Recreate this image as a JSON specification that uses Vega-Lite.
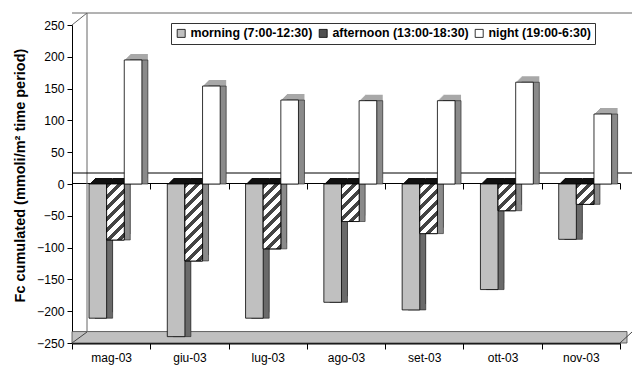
{
  "$schema": "https://vega.github.io/schema/vega-lite/v6.json",
  "width": 548,
  "height": 318,
  "autosize": "none",
  "padding": {"left": 72, "top": 25, "right": 12, "bottom": 24},
  "background": "white",
  "config": {
    "font": "Liberation Sans, Arial, sans-serif",
    "view": {"stroke": null},
    "axis": {"domainColor": "black", "tickColor": "black", "labelColor": "black", "titleColor": "black", "grid": false, "labelFont": "Liberation Sans, Arial, sans-serif", "titleFont": "Liberation Sans, Arial, sans-serif"},
    "legend": {"labelFont": "Liberation Sans, Arial, sans-serif"}
  },
  "datasets": {
    "bars": [
      {"month": "mag-03", "series": "morning (7:00-12:30)", "value": -211},
      {"month": "mag-03", "series": "afternoon (13:00-18:30)", "value": -88},
      {"month": "mag-03", "series": "night (19:00-6:30)", "value": 195},
      {"month": "giu-03", "series": "morning (7:00-12:30)", "value": -240},
      {"month": "giu-03", "series": "afternoon (13:00-18:30)", "value": -121},
      {"month": "giu-03", "series": "night (19:00-6:30)", "value": 154},
      {"month": "lug-03", "series": "morning (7:00-12:30)", "value": -211},
      {"month": "lug-03", "series": "afternoon (13:00-18:30)", "value": -102},
      {"month": "lug-03", "series": "night (19:00-6:30)", "value": 132},
      {"month": "ago-03", "series": "morning (7:00-12:30)", "value": -186},
      {"month": "ago-03", "series": "afternoon (13:00-18:30)", "value": -59},
      {"month": "ago-03", "series": "night (19:00-6:30)", "value": 131},
      {"month": "set-03", "series": "morning (7:00-12:30)", "value": -198},
      {"month": "set-03", "series": "afternoon (13:00-18:30)", "value": -78},
      {"month": "set-03", "series": "night (19:00-6:30)", "value": 131},
      {"month": "ott-03", "series": "morning (7:00-12:30)", "value": -166},
      {"month": "ott-03", "series": "afternoon (13:00-18:30)", "value": -42},
      {"month": "ott-03", "series": "night (19:00-6:30)", "value": 160},
      {"month": "nov-03", "series": "morning (7:00-12:30)", "value": -87},
      {"month": "nov-03", "series": "afternoon (13:00-18:30)", "value": -32},
      {"month": "nov-03", "series": "night (19:00-6:30)", "value": 110}
    ]
  },
  "data": {"name": "bars"},
  "resolve": {"scale": {"xOffset": "independent"}, "axis": {"x": "independent", "y": "independent"}},
  "layer": [
    {
      "data": {"values": [{}]},
      "mark": {"type": "rect", "fill": "#c0c0c0", "stroke": "#444", "strokeWidth": 0.8, "xOffset": 7, "x2Offset": 6},
      "encoding": {
        "y": {"datum": -250, "type": "quantitative", "scale": {"domain": [-250, 250], "nice": false}, "axis": null},
        "y2": {"datum": -232}
      }
    },
    {
      "data": {"values": [{}]},
      "mark": {"type": "rule", "color": "#666", "strokeWidth": 1, "xOffset": 15, "yOffset": -12},
      "encoding": {
        "x": {"datum": "mag-03", "type": "nominal", "bandPosition": 0,
              "scale": {"domain": ["mag-03","giu-03","lug-03","ago-03","set-03","ott-03","nov-03"], "paddingInner": 0, "paddingOuter": 0},
              "axis": {"orient": "bottom", "offset": -160, "labels": false, "ticks": true, "tickBand": "extent", "tickSize": 6, "domainWidth": 1, "title": null}},
        "y": {"datum": 250, "type": "quantitative", "axis": null},
        "y2": {"datum": -232}
      }
    },
    {
      "data": {"values": [{}]},
      "mark": {"type": "rule", "color": "#666", "strokeWidth": 1, "xOffset": 15, "x2Offset": 12, "yOffset": -12},
      "encoding": {"y": {"datum": 250, "type": "quantitative", "axis": null}}
    },
    {
      "data": {"values": [{}]},
      "mark": {"type": "rule", "color": "black", "strokeWidth": 1, "xOffset": 15, "x2Offset": 12, "yOffset": -11},
      "encoding": {"y": {"datum": 0, "type": "quantitative", "axis": null}}
    },
    {
      "data": {"values": [{}]},
      "mark": {"type": "rule", "color": "#666", "strokeWidth": 1, "x2Offset": 15, "y2Offset": -12},
      "encoding": {
        "x": {"datum": "mag-03", "type": "nominal", "bandPosition": 0, "axis": null},
        "x2": {"datum": "mag-03", "bandPosition": 0},
        "y": {"datum": 250, "type": "quantitative", "axis": null},
        "y2": {"datum": 250}
      }
    },
    {
      "data": {"values": [{}]},
      "mark": {"type": "rule", "color": "#444", "strokeWidth": 1, "x2Offset": 15, "y2Offset": -11},
      "encoding": {
        "x": {"datum": "mag-03", "type": "nominal", "bandPosition": 0, "axis": null},
        "x2": {"datum": "mag-03", "bandPosition": 0},
        "y": {"datum": -250, "type": "quantitative", "axis": null},
        "y2": {"datum": -250}
      }
    },
    {
      "data": {"values": [{}]},
      "mark": {"type": "rule", "color": "#444", "strokeWidth": 1, "x2Offset": 12, "y2Offset": -11},
      "encoding": {
        "x": {"datum": "nov-03", "type": "nominal", "bandPosition": 1, "axis": null},
        "x2": {"datum": "nov-03", "bandPosition": 1},
        "y": {"datum": -250, "type": "quantitative", "axis": null},
        "y2": {"datum": -250}
      }
    },
    {
      "mark": {"type": "bar", "yOffset": -1, "y2Offset": -1},
      "encoding": {
        "x": {"field": "month", "type": "nominal", "axis": null},
        "xOffset": {"field": "series", "type": "nominal", "scale": {"domain": ["morning (7:00-12:30)", "afternoon (13:00-18:30)", "night (19:00-6:30)"], "paddingInner": 0, "paddingOuter": 0.72, "align": 0.7089}},
        "y": {"field": "value", "type": "quantitative", "axis": null},
        "fill": {"condition": {"test": "datum.series==='night (19:00-6:30)'", "value": "#a8a8a8"}, "value": "#111"}
      }
    },
    {
      "mark": {"type": "bar", "yOffset": -2, "y2Offset": -2},
      "encoding": {
        "x": {"field": "month", "type": "nominal", "axis": null},
        "xOffset": {"field": "series", "type": "nominal", "scale": {"domain": ["morning (7:00-12:30)", "afternoon (13:00-18:30)", "night (19:00-6:30)"], "paddingInner": 0, "paddingOuter": 0.72, "align": 0.7483}},
        "y": {"field": "value", "type": "quantitative", "axis": null},
        "fill": {"condition": {"test": "datum.series==='night (19:00-6:30)'", "value": "#a8a8a8"}, "value": "#111"}
      }
    },
    {
      "mark": {"type": "bar", "yOffset": -3, "y2Offset": -3},
      "encoding": {
        "x": {"field": "month", "type": "nominal", "axis": null},
        "xOffset": {"field": "series", "type": "nominal", "scale": {"domain": ["morning (7:00-12:30)", "afternoon (13:00-18:30)", "night (19:00-6:30)"], "paddingInner": 0, "paddingOuter": 0.72, "align": 0.7877}},
        "y": {"field": "value", "type": "quantitative", "axis": null},
        "fill": {"condition": {"test": "datum.series==='night (19:00-6:30)'", "value": "#a8a8a8"}, "value": "#111"}
      }
    },
    {
      "mark": {"type": "bar", "yOffset": -4, "y2Offset": -4},
      "encoding": {
        "x": {"field": "month", "type": "nominal", "axis": null},
        "xOffset": {"field": "series", "type": "nominal", "scale": {"domain": ["morning (7:00-12:30)", "afternoon (13:00-18:30)", "night (19:00-6:30)"], "paddingInner": 0, "paddingOuter": 0.72, "align": 0.8271}},
        "y": {"field": "value", "type": "quantitative", "axis": null},
        "fill": {"condition": {"test": "datum.series==='night (19:00-6:30)'", "value": "#a8a8a8"}, "value": "#111"}
      }
    },
    {
      "mark": {"type": "bar", "yOffset": -5, "y2Offset": -5},
      "encoding": {
        "x": {"field": "month", "type": "nominal", "axis": null},
        "xOffset": {"field": "series", "type": "nominal", "scale": {"domain": ["morning (7:00-12:30)", "afternoon (13:00-18:30)", "night (19:00-6:30)"], "paddingInner": 0, "paddingOuter": 0.72, "align": 0.8665}},
        "y": {"field": "value", "type": "quantitative", "axis": null},
        "fill": {"condition": {"test": "datum.series==='night (19:00-6:30)'", "value": "#a8a8a8"}, "value": "#111"}
      }
    },
    {
      "mark": {"type": "bar", "yOffset": -6, "y2Offset": -6},
      "encoding": {
        "x": {"field": "month", "type": "nominal", "axis": null},
        "xOffset": {"field": "series", "type": "nominal", "scale": {"domain": ["morning (7:00-12:30)", "afternoon (13:00-18:30)", "night (19:00-6:30)"], "paddingInner": 0, "paddingOuter": 0.72, "align": 0.9059}},
        "y": {"field": "value", "type": "quantitative", "axis": null},
        "fill": {"condition": {"test": "datum.series==='night (19:00-6:30)'", "value": "#a8a8a8"}, "value": "#111"}
      }
    },
    {
      "mark": {"type": "bar", "stroke": "#222", "strokeWidth": 0.6},
      "encoding": {
        "x": {"field": "month", "type": "nominal", "axis": null},
        "xOffset": {"field": "series", "type": "nominal", "scale": {"domain": ["morning (7:00-12:30)", "afternoon (13:00-18:30)", "night (19:00-6:30)"], "paddingInner": 0, "paddingOuter": 0.72, "align": 0.9059}},
        "y": {"field": "value", "type": "quantitative", "axis": null},
        "fill": {"condition": {"test": "datum.series==='morning (7:00-12:30)'", "value": "#6a6a6a"}, "value": "#8a8a8a"}
      }
    },
    {
      "mark": {"type": "bar", "stroke": "black", "strokeWidth": 0.8},
      "encoding": {
        "x": {"field": "month", "type": "nominal",
              "axis": {"orient": "bottom", "title": null, "labelFontSize": 12, "labelPadding": 3, "tickSize": 6, "tickBand": "extent", "domainWidth": 2, "labelAngle": 0}},
        "xOffset": {"field": "series", "type": "nominal", "scale": {"domain": ["morning (7:00-12:30)", "afternoon (13:00-18:30)", "night (19:00-6:30)"], "paddingInner": 0, "paddingOuter": 0.72, "align": 0.6696}},
        "y": {"field": "value", "type": "quantitative",
              "axis": {"orient": "left", "values": [-250, -200, -150, -100, -50, 0, 50, 100, 150, 200, 250], "title": "Fc cumulated (mmoli/m² time period)", "titleFontSize": 14.5, "titleFontWeight": "bold", "titlePadding": 9, "titleY": 150, "labelFontSize": 12.2, "tickSize": 5, "labelPadding": 3}},
        "fill": {"field": "series", "type": "nominal",
                 "scale": {"domain": ["morning (7:00-12:30)", "afternoon (13:00-18:30)", "night (19:00-6:30)"], "range": ["#c0c0c0", "#505050", "#ffffff"]},
                 "legend": {"orient": "none", "legendX": 99, "legendY": -2, "direction": "horizontal", "title": null, "symbolType": "square", "symbolSize": 64, "symbolStrokeColor": "black", "symbolStrokeWidth": 0.8, "labelFontSize": 12.4, "labelFontWeight": "bold", "labelOffset": 3, "columnPadding": 4, "padding": 4, "strokeColor": "#333", "fillColor": "white", "labelLimit": 0, "labelColor": "black"}}
      }
    },
    {
      "transform": [{"filter": "datum.series==='afternoon (13:00-18:30)'"}],
      "mark": {"type": "bar", "stroke": "black", "strokeWidth": 0.8},
      "encoding": {
        "x": {"field": "month", "type": "nominal", "axis": null},
        "xOffset": {"field": "series", "type": "nominal", "scale": {"domain": ["morning (7:00-12:30)", "afternoon (13:00-18:30)", "night (19:00-6:30)"], "paddingInner": 0, "paddingOuter": 0.72, "align": 0.6696}},
        "y": {"field": "value", "type": "quantitative", "axis": null},
        "fill": {
          "condition": [
            {"test": "datum.month==='mag-03'", "value": {"gradient": "linear", "x1": 0, "y1": 0, "x2": 0.3769, "y2": 1.1963, "stops": [
              {"offset": 0, "color": "#444"}, {"offset": 0.0673, "color": "#444"}, {"offset": 0.0673, "color": "#fff"}, {"offset": 0.1495, "color": "#fff"},
              {"offset": 0.1495, "color": "#444"}, {"offset": 0.2167, "color": "#444"}, {"offset": 0.2167, "color": "#fff"}, {"offset": 0.2989, "color": "#fff"},
              {"offset": 0.2989, "color": "#444"}, {"offset": 0.3662, "color": "#444"}, {"offset": 0.3662, "color": "#fff"}, {"offset": 0.4484, "color": "#fff"},
              {"offset": 0.4484, "color": "#444"}, {"offset": 0.5156, "color": "#444"}, {"offset": 0.5156, "color": "#fff"}, {"offset": 0.5978, "color": "#fff"},
              {"offset": 0.5978, "color": "#444"}, {"offset": 0.6651, "color": "#444"}, {"offset": 0.6651, "color": "#fff"}, {"offset": 0.7473, "color": "#fff"},
              {"offset": 0.7473, "color": "#444"}, {"offset": 0.8145, "color": "#444"}, {"offset": 0.8145, "color": "#fff"}, {"offset": 0.8967, "color": "#fff"},
              {"offset": 0.8967, "color": "#444"}, {"offset": 0.964, "color": "#444"}, {"offset": 0.964, "color": "#fff"}, {"offset": 1, "color": "#fff"}]}},
            {"test": "datum.month==='giu-03'", "value": {"gradient": "linear", "x1": 0, "y1": 0, "x2": 0.2676, "y2": 1.1678, "stops": [
              {"offset": 0, "color": "#444"}, {"offset": 0.0523, "color": "#444"}, {"offset": 0.0523, "color": "#fff"}, {"offset": 0.1163, "color": "#fff"},
              {"offset": 0.1163, "color": "#444"}, {"offset": 0.1686, "color": "#444"}, {"offset": 0.1686, "color": "#fff"}, {"offset": 0.2326, "color": "#fff"},
              {"offset": 0.2326, "color": "#444"}, {"offset": 0.2849, "color": "#444"}, {"offset": 0.2849, "color": "#fff"}, {"offset": 0.3489, "color": "#fff"},
              {"offset": 0.3489, "color": "#444"}, {"offset": 0.4012, "color": "#444"}, {"offset": 0.4012, "color": "#fff"}, {"offset": 0.4652, "color": "#fff"},
              {"offset": 0.4652, "color": "#444"}, {"offset": 0.5175, "color": "#444"}, {"offset": 0.5175, "color": "#fff"}, {"offset": 0.5815, "color": "#fff"},
              {"offset": 0.5815, "color": "#444"}, {"offset": 0.6338, "color": "#444"}, {"offset": 0.6338, "color": "#fff"}, {"offset": 0.6978, "color": "#fff"},
              {"offset": 0.6978, "color": "#444"}, {"offset": 0.7501, "color": "#444"}, {"offset": 0.7501, "color": "#fff"}, {"offset": 0.8141, "color": "#fff"},
              {"offset": 0.8141, "color": "#444"}, {"offset": 0.8664, "color": "#444"}, {"offset": 0.8664, "color": "#fff"}, {"offset": 0.9303, "color": "#fff"},
              {"offset": 0.9303, "color": "#444"}, {"offset": 0.9826, "color": "#444"}, {"offset": 0.9826, "color": "#fff"}, {"offset": 1, "color": "#fff"}]}},
            {"test": "datum.month==='lug-03'", "value": {"gradient": "linear", "x1": 0, "y1": 0, "x2": 0.3219, "y2": 1.1843, "stops": [
              {"offset": 0, "color": "#444"}, {"offset": 0.06, "color": "#444"}, {"offset": 0.06, "color": "#fff"}, {"offset": 0.1333, "color": "#fff"},
              {"offset": 0.1333, "color": "#444"}, {"offset": 0.1933, "color": "#444"}, {"offset": 0.1933, "color": "#fff"}, {"offset": 0.2667, "color": "#fff"},
              {"offset": 0.2667, "color": "#444"}, {"offset": 0.3267, "color": "#444"}, {"offset": 0.3267, "color": "#fff"}, {"offset": 0.4, "color": "#fff"},
              {"offset": 0.4, "color": "#444"}, {"offset": 0.46, "color": "#444"}, {"offset": 0.46, "color": "#fff"}, {"offset": 0.5333, "color": "#fff"},
              {"offset": 0.5333, "color": "#444"}, {"offset": 0.5933, "color": "#444"}, {"offset": 0.5933, "color": "#fff"}, {"offset": 0.6667, "color": "#fff"},
              {"offset": 0.6667, "color": "#444"}, {"offset": 0.7267, "color": "#444"}, {"offset": 0.7267, "color": "#fff"}, {"offset": 0.8, "color": "#fff"},
              {"offset": 0.8, "color": "#444"}, {"offset": 0.86, "color": "#444"}, {"offset": 0.86, "color": "#fff"}, {"offset": 0.9333, "color": "#fff"},
              {"offset": 0.9333, "color": "#444"}, {"offset": 0.9933, "color": "#444"}, {"offset": 0.9933, "color": "#fff"}, {"offset": 1, "color": "#fff"}]}},
            {"test": "datum.month==='ago-03'", "value": {"gradient": "linear", "x1": 0, "y1": 0, "x2": 0.5658, "y2": 1.204, "stops": [
              {"offset": 0, "color": "#444"}, {"offset": 0.0898, "color": "#444"}, {"offset": 0.0898, "color": "#fff"}, {"offset": 0.1995, "color": "#fff"},
              {"offset": 0.1995, "color": "#444"}, {"offset": 0.2892, "color": "#444"}, {"offset": 0.2892, "color": "#fff"}, {"offset": 0.3989, "color": "#fff"},
              {"offset": 0.3989, "color": "#444"}, {"offset": 0.4887, "color": "#444"}, {"offset": 0.4887, "color": "#fff"}, {"offset": 0.5984, "color": "#fff"},
              {"offset": 0.5984, "color": "#444"}, {"offset": 0.6881, "color": "#444"}, {"offset": 0.6881, "color": "#fff"}, {"offset": 0.7978, "color": "#fff"},
              {"offset": 0.7978, "color": "#444"}, {"offset": 0.8876, "color": "#444"}, {"offset": 0.8876, "color": "#fff"}, {"offset": 1, "color": "#fff"}]}},
            {"test": "datum.month==='set-03'", "value": {"gradient": "linear", "x1": 0, "y1": 0, "x2": 0.4277, "y2": 1.2034, "stops": [
              {"offset": 0, "color": "#444"}, {"offset": 0.0736, "color": "#444"}, {"offset": 0.0736, "color": "#fff"}, {"offset": 0.1636, "color": "#fff"},
              {"offset": 0.1636, "color": "#444"}, {"offset": 0.2372, "color": "#444"}, {"offset": 0.2372, "color": "#fff"}, {"offset": 0.3272, "color": "#fff"},
              {"offset": 0.3272, "color": "#444"}, {"offset": 0.4008, "color": "#444"}, {"offset": 0.4008, "color": "#fff"}, {"offset": 0.4908, "color": "#fff"},
              {"offset": 0.4908, "color": "#444"}, {"offset": 0.5644, "color": "#444"}, {"offset": 0.5644, "color": "#fff"}, {"offset": 0.6544, "color": "#fff"},
              {"offset": 0.6544, "color": "#444"}, {"offset": 0.728, "color": "#444"}, {"offset": 0.728, "color": "#fff"}, {"offset": 0.818, "color": "#fff"},
              {"offset": 0.818, "color": "#444"}, {"offset": 0.8916, "color": "#444"}, {"offset": 0.8916, "color": "#fff"}, {"offset": 1, "color": "#fff"}]}},
            {"test": "datum.month==='ott-03'", "value": {"gradient": "linear", "x1": 0, "y1": 0, "x2": 0.7633, "y2": 1.1562, "stops": [
              {"offset": 0, "color": "#444"}, {"offset": 0.1116, "color": "#444"}, {"offset": 0.1116, "color": "#fff"}, {"offset": 0.2481, "color": "#fff"},
              {"offset": 0.2481, "color": "#444"}, {"offset": 0.3597, "color": "#444"}, {"offset": 0.3597, "color": "#fff"}, {"offset": 0.4962, "color": "#fff"},
              {"offset": 0.4962, "color": "#444"}, {"offset": 0.6078, "color": "#444"}, {"offset": 0.6078, "color": "#fff"}, {"offset": 0.7442, "color": "#fff"},
              {"offset": 0.7442, "color": "#444"}, {"offset": 0.8559, "color": "#444"}, {"offset": 0.8559, "color": "#fff"}, {"offset": 1, "color": "#fff"}]}},
            {"test": "datum.month==='nov-03'", "value": {"gradient": "linear", "x1": 0, "y1": 0, "x2": 0.9237, "y2": 1.0661, "stops": [
              {"offset": 0, "color": "#444"}, {"offset": 0.1303, "color": "#444"}, {"offset": 0.1303, "color": "#fff"}, {"offset": 0.2896, "color": "#fff"},
              {"offset": 0.2896, "color": "#444"}, {"offset": 0.42, "color": "#444"}, {"offset": 0.42, "color": "#fff"}, {"offset": 0.5793, "color": "#fff"},
              {"offset": 0.5793, "color": "#444"}, {"offset": 0.7096, "color": "#444"}, {"offset": 0.7096, "color": "#fff"}, {"offset": 0.8689, "color": "#fff"},
              {"offset": 0.8689, "color": "#444"}, {"offset": 0.9992, "color": "#444"}, {"offset": 0.9992, "color": "#fff"}, {"offset": 1, "color": "#fff"}]}}
          ],
          "value": "#888"
        }
      }
    }
  ]
}
